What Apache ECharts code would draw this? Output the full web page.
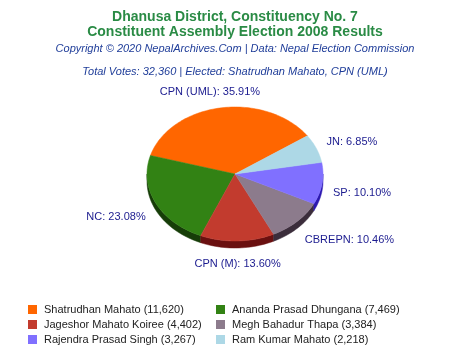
<!DOCTYPE html>
<html>
<head>
<meta charset="utf-8">
<script src="https://cdn.jsdelivr.net/npm/echarts@6/dist/echarts.min.js"></script>
<style>html,body{margin:0;padding:0;background:#fff}#c{width:470px;height:352px}</style>
</head>
<body>
<div id="c"></div>
<script>
var parties = ['CPN (UML)', 'NC', 'CPN (M)', 'CBREPN', 'SP', 'JN'];
var candidates = ['Shatrudhan Mahato', 'Ananda Prasad Dhungana', 'Jageshor Mahato Koiree', 'Megh Bahadur Thapa', 'Rajendra Prasad Singh', 'Ram Kumar Mahato'];
var votes = [11620, 7469, 4402, 3384, 3267, 2218];
var colors = ['#FF6600', '#328214', '#C23B2E', '#8C7B8C', '#8070FF', '#ADD8E6'];
var sideColors = ['#8a3600', '#163d08', '#6a1010', '#3b2d3b', '#2c18b0', '#5a8090'];

var total = votes.reduce(function (a, b) { return a + b; }, 0);
function fmt(n) { return n.toLocaleString('en-US'); }

var FONT = 'Liberation Sans, Arial, sans-serif';
var CX = 235, CY = 174, RX = 88, RY = 67, DEPTH = 7, START = 34.7;

function pt(deg, dy) {
  var r = deg * Math.PI / 180;
  return [CX + RX * Math.cos(r), CY - RY * Math.sin(r) + (dy || 0)];
}

function sliceRange(i) {
  var before = 0;
  for (var k = 0; k < i; k++) before += votes[k];
  var a = START + before / total * 360;
  var b = a + votes[i] / total * 360;
  return [a, b];
}

function renderItem(params, api) {
  var i = params.seriesIndex;
  var rg = sliceRange(i);
  var a = rg[0], b = rg[1];
  var children = [];
  [[180, 360], [540, 720]].forEach(function (w) {
    var s = Math.max(a, w[0]), e = Math.min(b, w[1]);
    if (e > s) {
      var pts = [], n = Math.max(4, Math.ceil((e - s) / 2));
      for (var j = 0; j <= n; j++) pts.push(pt(s + (e - s) * j / n, 0));
      for (var j2 = n; j2 >= 0; j2--) pts.push(pt(s + (e - s) * j2 / n, DEPTH));
      children.push({ type: 'polygon', z2: 1, shape: { points: pts }, style: { fill: sideColors[i], stroke: sideColors[i], lineWidth: 0.5 } });
    }
  });
  var top = [[CX, CY]], m = Math.max(6, Math.ceil((b - a) / 1.5));
  for (var j = 0; j <= m; j++) top.push(pt(a + (b - a) * j / m, 0));
  children.push({ type: 'polygon', z2: 10, shape: { points: top }, style: { fill: colors[i], stroke: colors[i], lineWidth: 0.5 } });
  var mid = (a + b) / 2, r = mid * Math.PI / 180;
  var c = Math.cos(r), s2 = Math.sin(r);
  var p = pt(mid, s2 < 0 ? DEPTH : 0);
  var lx = p[0] + 11 * c, ly = p[1] - 16 * s2;
  if (Math.abs(c) <= 0.3 && s2 > 0) lx -= 9;
  var align = c > 0.3 ? 'left' : (c < -0.3 ? 'right' : 'center');
  var pct = (votes[i] / total * 100).toFixed(2);
  children.push({ type: 'text', z2: 20, style: { text: parties[i] + ': ' + pct + '%', x: lx, y: ly, fill: '#1B1B8F', fontSize: 11, fontFamily: FONT, align: align, verticalAlign: 'middle' } });
  return { type: 'group', children: children };
}

var series = votes.map(function (v, i) {
  return {
    type: 'custom',
    name: candidates[i] + ' (' + fmt(v) + ')',
    coordinateSystem: 'none',
    renderItem: renderItem,
    itemStyle: { color: colors[i] },
    data: [[v]],
    silent: true
  };
});

var legendText = { fontSize: 11, color: '#222', fontFamily: FONT, padding: [0, 0, 0, 2] };
var legends = series.map(function (s, i) {
  return {
    orient: 'horizontal', left: (i % 2 === 0) ? 28 : 216, top: 304 + Math.floor(i / 2) * 15,
    itemWidth: 9, itemHeight: 9, itemGap: 0, icon: 'rect', selectedMode: false, padding: 0,
    data: [s.name], textStyle: legendText
  };
});

var option = {
  animation: false,
  title: [
    { text: 'Dhanusa District, Constituency No. 7\nConstituent Assembly Election 2008 Results', left: 'center', top: 10, padding: 0,
      textStyle: { fontSize: 14, fontWeight: 'bold', color: '#2A8B45', lineHeight: 15, fontFamily: FONT } },
    { text: 'Copyright \u00A9 2020 NepalArchives.Com | Data: Nepal Election Commission', left: 'center', top: 43, padding: 0,
      textStyle: { fontSize: 11, fontWeight: 'normal', fontStyle: 'italic', color: '#1F3D99', fontFamily: FONT } },
    { text: 'Total Votes: ' + fmt(total) + ' | Elected: Shatrudhan Mahato, CPN (UML)', left: 'center', top: 66, padding: 0,
      textStyle: { fontSize: 11, fontWeight: 'normal', fontStyle: 'italic', color: '#1F3D99', fontFamily: FONT } }
  ],
  legend: legends,
  series: series
};
var chart = echarts.init(document.getElementById('c'), null, { renderer: 'canvas' });
chart.setOption(option);
</script>
</body>
</html>
